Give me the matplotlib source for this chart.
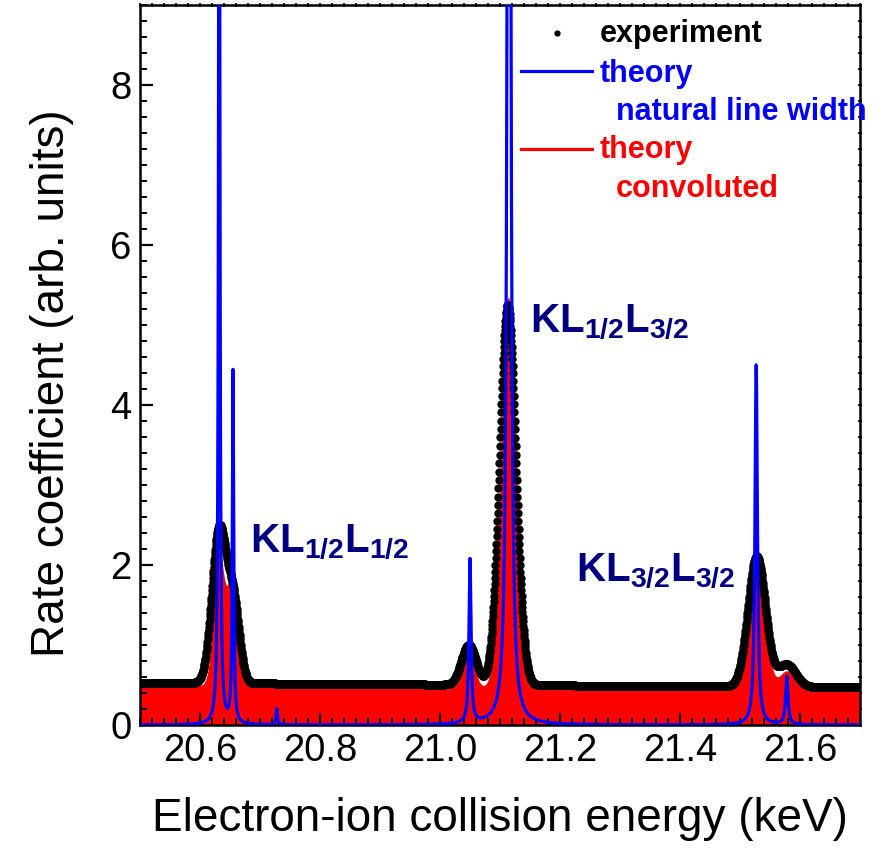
import numpy as np
import matplotlib
matplotlib.use("Agg")
import matplotlib.pyplot as plt
from matplotlib.lines import Line2D
from matplotlib.ticker import MultipleLocator, FormatStrFormatter

plt.rcParams['font.family'] = ['Liberation Sans', 'DejaVu Sans']
plt.rcParams['mathtext.fontset'] = 'custom'
plt.rcParams['mathtext.rm'] = 'Liberation Sans'
plt.rcParams['mathtext.bf'] = 'Liberation Sans:bold'

# --- resonance lines (keV) --------------------------------------------------
line_energy = [20.632, 20.655, 20.728, 21.050, 21.115, 21.527, 21.578]

# theory, natural line width: Lorentzian peak heights and half widths (keV)
natural_height = [14.0, 4.4, 0.20, 2.05, 35.0, 4.5, 0.60]
natural_hwhm = [0.0013, 0.0013, 0.0013, 0.0020, 0.0020, 0.0024, 0.0024]

# theory convoluted with the experimental resolution: Gaussian components
conv_energy = [20.632, 20.654, 20.728, 21.048, 21.114, 21.527, 21.578]
conv_height = [1.63, 1.28, 0.04, 0.48, 4.88, 1.80, 0.23]
conv_sigma = [0.009, 0.008, 0.010, 0.009, 0.012, 0.0135, 0.012]
conv_background = [0.50, 0.44]          # at 20.5 keV and 21.7 keV

# experiment: measured resonance profile
exp_energy = [20.632, 20.656, 21.048, 21.113, 21.528, 21.578]
exp_height = [1.92, 0.93, 0.50, 4.75, 1.63, 0.28]
exp_sigma = [0.012, 0.010, 0.012, 0.0135, 0.0145, 0.015]
exp_background = [0.53, 0.47]           # at 20.5 keV and 21.7 keV

peak_labels = [r'$\mathbf{KL_{1/2}L_{1/2}}$',
               r'$\mathbf{KL_{1/2}L_{3/2}}$',
               r'$\mathbf{KL_{3/2}L_{3/2}}$']
peak_label_pos = [(20.683, 2.16), (21.150, 4.91), (21.227, 1.79)]

x_range = (20.5, 21.7)
y_range = (0.0, 9.0)
x_major = [20.6, 20.8, 21.0, 21.2, 21.4, 21.6]


def lorentz_sum(e, centers, heights, hwhm):
    out = np.zeros_like(e)
    for c, h, g in zip(centers, heights, hwhm):
        out += h * g**2 / ((e - c)**2 + g**2)
    return out


def gauss_sum(e, centers, heights, sigma):
    out = np.zeros_like(e)
    for c, h, s in zip(centers, heights, sigma):
        out += h * np.exp(-(e - c)**2 / (2 * s**2))
    return out


def linear_bg(e, ends):
    return ends[0] + (ends[1] - ends[0]) * (e - x_range[0]) / (x_range[1] - x_range[0])


e_fine = np.arange(x_range[0], x_range[1] + 1e-5, 0.0001)
e_exp = np.arange(x_range[0], x_range[1] + 1e-5, 0.0005)

natural = lorentz_sum(e_fine, line_energy, natural_height, natural_hwhm)
convoluted = linear_bg(e_fine, conv_background) + gauss_sum(e_fine, conv_energy, conv_height, conv_sigma)
experiment = linear_bg(e_exp, exp_background) + gauss_sum(e_exp, exp_energy, exp_height, exp_sigma)

fig = plt.figure(figsize=(8.78, 8.49), dpi=100)
ax = fig.add_axes([140 / 878, 124 / 849, 720 / 878, 720 / 849])

ax.fill_between(e_fine, 0, convoluted, color='#ff0000', linewidth=0, zorder=1)
ax.plot(e_exp, experiment, 'o', color='black', markersize=6.0,
        markeredgewidth=0, zorder=2)
ax.plot(e_fine, natural, color='#0000ff', linewidth=2.3, zorder=3)

ax.set_xlim(*x_range)
ax.set_ylim(*y_range)

ax.set_xticks(x_major)
ax.xaxis.set_minor_locator(MultipleLocator(0.02))
ax.xaxis.set_major_formatter(FormatStrFormatter('%.1f'))
ax.yaxis.set_major_locator(MultipleLocator(2))
ax.yaxis.set_minor_locator(MultipleLocator(0.2))

ax.tick_params(which='major', direction='in', length=9, width=1.6,
               labelsize=27.5, pad=6)
ax.tick_params(which='minor', direction='in', length=5, width=1.4)
for sp in ax.spines.values():
    sp.set_linewidth(1.8)

# short ticks along the top and right frame
top = ax.secondary_xaxis('top')
top.xaxis.set_major_locator(MultipleLocator(0.02))
top.tick_params(direction='inout', length=3, width=1.2, labeltop=False)
right = ax.secondary_yaxis('right')
right.yaxis.set_major_locator(MultipleLocator(0.2))
right.tick_params(direction='inout', length=3, width=1.2, labelright=False)

ax.set_xlabel('Electron-ion collision energy (keV)', fontsize=33, labelpad=20)
ax.set_ylabel('Rate coefficient (arb. units)', fontsize=33, labelpad=26)
ax.yaxis.label.set_y(0.475)

for txt, (px, py) in zip(peak_labels, peak_label_pos):
    ax.text(px, py, txt, color='#000080', fontsize=29, ha='left', va='baseline',
            zorder=5)

# legend block
tr = ax.transAxes
ax.add_line(Line2D([0.579], [0.961], marker='o', markersize=3.5, color='black',
                   linestyle='none', transform=tr))
ax.add_line(Line2D([0.529, 0.628], [0.908, 0.908], color='#0000ff', lw=2.3,
                   transform=tr))
ax.add_line(Line2D([0.529, 0.628], [0.800, 0.800], color='#ff0000', lw=2.3,
                   transform=tr))
legend_fs = 22
ax.text(0.639, 0.9486, 'experiment', transform=tr, fontsize=legend_fs,
        fontweight='bold', color='black', va='baseline')
ax.text(0.639, 0.893, 'theory', transform=tr, fontsize=legend_fs,
        fontweight='bold', color='#0000ff', va='baseline')
ax.text(0.661, 0.840, 'natural line width', transform=tr, fontsize=legend_fs,
        fontweight='bold', color='#0000ff', va='baseline')
ax.text(0.639, 0.7875, 'theory', transform=tr, fontsize=legend_fs,
        fontweight='bold', color='#ff0000', va='baseline')
ax.text(0.661, 0.733, 'convoluted', transform=tr, fontsize=legend_fs,
        fontweight='bold', color='#ff0000', va='baseline')

fig.savefig('out.png', dpi=100)
